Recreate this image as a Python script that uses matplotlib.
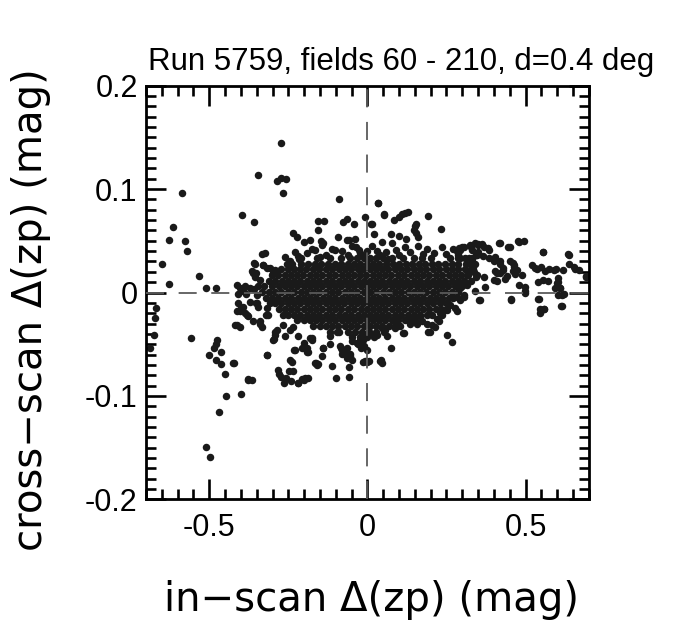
import matplotlib
matplotlib.use("Agg")
import matplotlib.pyplot as plt
from matplotlib.ticker import MultipleLocator, FixedLocator, FixedFormatter
import numpy as np

# ---- data (in-scan, cross-scan) in mag ----
# dense core, one row of x values per cross-scan level
core_y = [0.0335, 0.028, 0.0225, 0.017, 0.0115, 0.006, 0.0005, -0.005,
          -0.0105, -0.016, -0.0215, -0.027, -0.0325, -0.038, -0.0435]
core_x = [
    [-0.21, -0.16, -0.118, -0.085, -0.055, -0.032, -0.012, 0.008, 0.027, 0.05,
     0.078, 0.112, 0.148, 0.172, 0.2, 0.262, 0.288, 0.31, 0.332],
    [-0.238, -0.211, -0.189, -0.166, -0.147, -0.124, -0.103, -0.084, -0.062, -0.043,
     -0.022, -0.002, 0.019, 0.037, 0.058, 0.08, 0.099, 0.121, 0.14, 0.162, 0.181,
     0.204, 0.222, 0.244, 0.266, 0.287, 0.312, 0.328],
    [-0.272, -0.251, -0.233, -0.212, -0.193, -0.171, -0.152, -0.131, -0.112, -0.091,
     -0.072, -0.052, -0.031, -0.013, 0.008, 0.027, 0.047, 0.066, 0.087, 0.106, 0.126,
     0.147, 0.165, 0.186, 0.206, 0.226, 0.247, 0.267, 0.286, 0.307, 0.333],
    [-0.301, -0.282, -0.262, -0.243, -0.222, -0.203, -0.182, -0.162, -0.143, -0.121,
     -0.102, -0.081, -0.062, -0.041, -0.022, -0.003, 0.018, 0.037, 0.057, 0.076,
     0.097, 0.116, 0.137, 0.156, 0.176, 0.196, 0.216, 0.236, 0.257, 0.276, 0.297,
     0.318, 0.345],
    [-0.312, -0.292, -0.271, -0.252, -0.232, -0.212, -0.191, -0.172, -0.152, -0.131,
     -0.112, -0.091, -0.071, -0.052, -0.031, -0.012, 0.008, 0.028, 0.047, 0.067,
     0.086, 0.107, 0.126, 0.146, 0.166, 0.187, 0.206, 0.226, 0.246, 0.267, 0.287,
     0.306, 0.328],
    [-0.328, -0.302, -0.281, -0.262, -0.242, -0.222, -0.201, -0.182, -0.161, -0.142,
     -0.121, -0.101, -0.082, -0.061, -0.042, -0.021, -0.002, 0.018, 0.038, 0.057,
     0.077, 0.096, 0.117, 0.136, 0.157, 0.176, 0.196, 0.216, 0.237, 0.256, 0.277,
     0.298],
    [-0.332, -0.311, -0.292, -0.272, -0.251, -0.232, -0.211, -0.191, -0.172, -0.152,
     -0.132, -0.111, -0.092, -0.071, -0.051, -0.032, -0.011, 0.008, 0.028, 0.048,
     0.067, 0.087, 0.106, 0.127, 0.147, 0.166, 0.186, 0.207, 0.226, 0.246, 0.267,
     0.285],
    [-0.321, -0.301, -0.282, -0.261, -0.242, -0.221, -0.202, -0.181, -0.162, -0.141,
     -0.122, -0.101, -0.081, -0.062, -0.041, -0.022, -0.001, 0.018, 0.038, 0.057,
     0.078, 0.097, 0.117, 0.137, 0.156, 0.176, 0.197, 0.216, 0.236, 0.257, 0.272],
    [-0.308, -0.292, -0.273, -0.252, -0.233, -0.213, -0.192, -0.173, -0.152, -0.132,
     -0.113, -0.092, -0.073, -0.053, -0.032, -0.013, 0.007, 0.027, 0.047, 0.066,
     0.086, 0.106, 0.126, 0.146, 0.167, 0.187, 0.207, 0.228, 0.248],
    [-0.281, -0.262, -0.241, -0.222, -0.201, -0.182, -0.161, -0.142, -0.121, -0.102,
     -0.082, -0.061, -0.042, -0.021, -0.002, 0.018, 0.037, 0.057, 0.077, 0.097,
     0.116, 0.137, 0.156, 0.177, 0.196, 0.217, 0.232],
    [-0.266, -0.251, -0.231, -0.212, -0.192, -0.171, -0.152, -0.131, -0.112, -0.091,
     -0.072, -0.052, -0.031, -0.012, 0.008, 0.027, 0.047, 0.066, 0.087, 0.106,
     0.127, 0.147, 0.166, 0.187, 0.203],
    [-0.222, -0.201, -0.182, -0.161, -0.142, -0.121, -0.102, -0.081, -0.062, -0.041,
     -0.022, -0.001, 0.018, 0.038, 0.057, 0.078, 0.097, 0.118, 0.137, 0.152],
    [-0.172, -0.151, -0.131, -0.111, -0.092, -0.071, -0.052, -0.032, -0.011, 0.008,
     0.028, 0.047, 0.067, 0.088, 0.103],
    [-0.118, -0.09, -0.062, -0.038, -0.016, 0.006, 0.027, 0.052],
    [-0.05, -0.022, 0.0, 0.021],
]

# scattered points above the core
upper = [(-0.157, 0.069), (-0.137, 0.069), (-0.076, 0.068), (-0.065, 0.071), (-0.042, 0.066),
         (0.012, 0.066), (0.083, 0.070), (-0.155, 0.060), (-0.234, 0.058), (-0.223, 0.054),
         (-0.094, 0.054), (-0.063, 0.051), (-0.039, 0.052), (0.022, 0.057), (0.074, 0.057),
         (0.101, 0.055), (0.121, 0.052), (0.150, 0.064), (0.155, 0.058), (0.160, 0.054),
         (0.146, 0.060), (0.155, 0.066), (-0.200, 0.049), (-0.182, 0.051), (-0.146, 0.050),
         (-0.139, 0.048), (-0.142, 0.046), (-0.113, 0.042), (-0.104, 0.041), (0.054, 0.076),
         (0.101, 0.073), (0.119, 0.077), (0.127, 0.078), (0.109, 0.076), (0.053, 0.075),
         (0.014, 0.066), (0.046, 0.049), (0.077, 0.048), (0.233, 0.061), (-0.176, 0.042),
         (-0.165, 0.041), (-0.229, 0.039), (-0.220, 0.035), (-0.324, 0.038), (-0.334, 0.037),
         (-0.359, 0.029), (-0.331, 0.027), (-0.366, 0.021), (-0.352, 0.019), (-0.308, 0.024),
         (-0.292, 0.022), (-0.287, 0.018), (-0.049, 0.045), (-0.057, 0.051), (-0.028, 0.041),
         (-0.023, 0.038), (-0.255, 0.028), (-0.245, 0.030), (-0.355, 0.028), (-0.329, 0.027),
         (-0.361, 0.019), (-0.355, 0.015), (-0.340, 0.012), (-0.318, 0.024), (-0.297, 0.019),
         (-0.190, 0.038), (-0.130, 0.036), (-0.080, 0.040), (-0.060, 0.036), (-0.035, 0.044),
         (0.000, 0.040), (0.015, 0.045), (0.030, 0.040), (0.060, 0.039), (0.090, 0.041),
         (0.100, 0.036), (0.120, 0.044), (0.135, 0.039), (0.160, 0.045), (0.175, 0.037),
         (0.190, 0.042), (0.210, 0.038), (0.235, 0.044), (0.250, 0.037), (0.270, 0.042),
         (-0.150, 0.034), (-0.215, 0.032), (-0.260, 0.034), (0.065, 0.032), (-0.010, 0.035),
         (0.040, 0.036), (-0.009, 0.073), (0.193, 0.074), (0.035, 0.087), (-0.090, 0.090)]

# scattered points below the core
lower = [(-0.265, -0.088), (-0.257, -0.083), (-0.249, -0.076), (-0.234, -0.076), (-0.284, -0.075),
         (-0.280, -0.079), (-0.272, -0.082), (-0.243, -0.086), (-0.219, -0.088), (-0.202, -0.085),
         (-0.189, -0.083), (-0.208, -0.084), (-0.197, -0.083), (-0.165, -0.068), (-0.157, -0.069),
         (-0.113, -0.071), (-0.100, -0.083), (-0.059, -0.082), (-0.057, -0.072), (-0.008, -0.066),
         (0.004, -0.066), (0.039, -0.066), (0.047, -0.068), (0.075, -0.054), (-0.245, -0.065),
         (-0.239, -0.067), (-0.229, -0.056), (-0.139, -0.054), (-0.144, -0.061), (-0.194, -0.055),
         (-0.187, -0.058), (-0.181, -0.044), (-0.176, -0.046), (-0.087, -0.052), (-0.080, -0.056),
         (-0.072, -0.059), (-0.065, -0.063), (-0.055, -0.061), (-0.048, -0.065), (-0.030, -0.050),
         (-0.020, -0.054), (-0.010, -0.052), (0.000, -0.056), (-0.013, -0.067), (-0.002, -0.067),
         (0.061, -0.042), (0.030, -0.041), (0.114, -0.039), (0.088, -0.034), (0.156, -0.030),
         (0.172, -0.028), (0.193, -0.038), (0.117, -0.039), (0.198, -0.038), (0.253, -0.041),
         (0.268, -0.048), (-0.297, -0.046), (-0.292, -0.041), (-0.318, -0.060), (-0.218, -0.042),
         (-0.202, -0.049), (-0.208, -0.054), (-0.192, -0.054), (-0.176, -0.044), (-0.192, -0.058),
         (-0.141, -0.054), (-0.118, -0.050), (-0.118, -0.042), (-0.097, -0.038), (-0.084, -0.054),
         (-0.079, -0.059), (-0.065, -0.054), (-0.055, -0.059), (-0.049, -0.047), (-0.034, -0.049),
         (-0.023, -0.046), (-0.007, -0.042), (-0.287, -0.036), (-0.266, -0.031), (-0.245, -0.036),
         (-0.234, -0.033), (0.083, -0.028), (0.098, -0.031), (0.135, -0.030), (0.130, -0.026),
         (0.167, -0.023), (0.188, -0.030), (0.204, -0.031), (0.220, -0.026), (0.230, -0.020),
         (0.246, -0.017), (0.262, -0.012), (0.278, -0.015), (0.283, -0.018), (0.293, -0.007),
         (0.304, -0.004), (0.056, -0.036), (0.046, -0.034), (0.009, -0.039), (-0.013, -0.046),
         (-0.023, -0.050), (0.251, -0.017), (0.235, -0.022), (0.225, -0.028), (0.214, -0.033),
         (0.042, -0.065), (-0.162, -0.068), (-0.158, -0.070), (-0.218, -0.088)]

# left end of the cloud
left = [(-0.413, 0.007), (-0.403, 0.004), (-0.410, -0.001), (-0.387, 0.006), (-0.371, 0.004),
        (-0.385, -0.001), (-0.408, -0.010), (-0.392, -0.014), (-0.403, -0.018), (-0.387, -0.020),
        (-0.377, -0.023), (-0.352, -0.010), (-0.345, -0.014), (-0.400, -0.015), (-0.382, -0.022),
        (-0.413, -0.018), (-0.371, -0.009), (-0.361, -0.028), (-0.350, -0.010), (-0.411, -0.031),
        (-0.403, -0.033), (-0.340, -0.030), (-0.334, -0.033), (-0.318, -0.015), (-0.313, -0.022),
        (-0.292, -0.038), (-0.295, -0.045), (-0.260, -0.042), (-0.231, -0.056), (-0.394, 0.001),
        (-0.419, -0.031), (-0.340, -0.028), (-0.322, -0.022), (-0.360, 0.003), (-0.350, -0.002),
        (-0.345, 0.006), (-0.424, -0.068), (-0.376, -0.084), (-0.366, -0.085), (-0.422, -0.068),
        (-0.317, -0.060), (-0.401, -0.098)]

# right wing of the cloud
right = [(0.283, 0.040), (0.290, 0.043), (0.299, 0.044), (0.286, 0.036), (0.293, 0.033),
         (0.328, 0.044), (0.330, 0.041), (0.343, 0.036), (0.349, 0.039), (0.351, 0.047),
         (0.362, 0.047), (0.370, 0.044), (0.383, 0.041), (0.380, 0.043), (0.320, 0.033),
         (0.330, 0.032), (0.341, 0.028), (0.325, 0.022), (0.336, 0.020), (0.315, 0.017),
         (0.304, 0.011), (0.315, 0.007), (0.293, 0.004), (0.283, -0.004), (0.293, 0.041),
         (0.304, 0.044), (0.288, 0.038), (0.325, 0.046), (0.341, 0.048), (0.351, 0.046),
         (0.346, 0.036), (0.367, 0.035), (0.383, 0.033), (0.399, 0.030), (0.420, 0.028),
         (0.430, 0.022), (0.420, 0.019), (0.441, 0.016), (0.452, 0.030), (0.462, 0.025),
         (0.473, 0.022), (0.478, 0.049), (0.494, 0.050), (0.446, 0.044), (0.415, 0.048),
         (0.420, 0.048), (0.452, 0.044), (0.476, 0.050), (0.554, 0.039), (0.634, 0.037),
         (0.636, 0.028), (0.657, 0.023), (0.691, 0.015), (0.520, 0.027), (0.536, 0.023),
         (0.562, 0.021), (0.591, 0.022), (0.596, 0.023), (0.620, 0.022), (0.603, 0.014),
         (0.603, 0.010), (0.570, 0.011), (0.555, 0.012), (0.540, 0.010), (0.490, 0.017),
         (0.480, 0.007), (0.497, 0.005), (0.499, 0.001), (0.455, -0.006), (0.541, -0.006),
         (0.557, -0.016), (0.547, -0.020), (0.613, -0.013), (0.594, 0.004), (0.609, 0.004),
         (0.604, -0.002), (0.615, -0.002), (0.623, -0.001), (0.357, -0.007), (0.341, 0.001),
         (0.372, 0.005), (0.304, -0.002), (0.399, 0.012), (0.410, 0.019), (0.404, 0.021),
         (0.411, 0.011), (0.434, 0.013), (0.459, 0.029), (0.465, 0.027), (0.459, 0.021),
         (0.467, 0.018), (0.428, 0.024), (0.420, 0.030), (0.402, 0.034), (0.369, 0.015),
         (0.343, 0.015), (0.354, -0.007), (0.454, -0.007), (0.539, -0.006), (0.558, -0.016),
         (0.498, 0.000), (0.652, 0.025), (0.668, 0.022), (0.690, 0.016), (0.636, 0.036),
         (0.555, 0.039), (0.530, 0.024), (0.548, 0.025), (0.575, 0.023), (0.599, 0.009),
         (0.610, 0.004), (0.614, -0.013), (0.547, -0.016), (0.035, 0.087)]

# isolated outliers
outliers = [(-0.273, 0.145), (-0.345, 0.114), (-0.287, 0.108), (-0.274, 0.111), (-0.257, 0.110),
            (-0.267, 0.096), (-0.585, 0.096), (-0.395, 0.075), (-0.358, 0.068), (-0.616, 0.063),
            (-0.627, 0.051), (-0.578, 0.050), (-0.571, 0.040), (-0.651, 0.028), (-0.627, 0.008),
            (-0.533, 0.016), (-0.510, 0.004), (-0.478, 0.004), (-0.669, -0.015), (-0.672, -0.025),
            (-0.675, -0.041), (-0.688, -0.054), (-0.558, -0.044), (-0.501, -0.060), (-0.479, -0.050),
            (-0.474, -0.046), (-0.485, -0.054), (-0.463, -0.058), (-0.479, -0.065), (-0.464, -0.069),
            (-0.451, -0.079), (-0.448, -0.100), (-0.470, -0.116), (-0.510, -0.149), (-0.497, -0.159),
            (-0.379, -0.085)]

xticks = [-0.5, 0, 0.5]
xtick_labels = ["-0.5", "0", "0.5"]
yticks = [-0.2, -0.1, 0, 0.1, 0.2]
ytick_labels = ["-0.2", "-0.1", "0", "0.1", "0.2"]

title = "Run 5759, fields 60 - 210, d=0.4 deg"
xlabel = "in\u2212scan \u0394(zp) (mag)"
ylabel = "cross\u2212scan \u0394(zp) (mag)"

# ---- build the point arrays ----
px = [x for row in core_x for x in row]
py = [y for y, row in zip(core_y, core_x) for _ in row]
for group in (upper, lower, left, right, outliers):
    px += [p[0] for p in group]
    py += [p[1] for p in group]
px = np.array(px)
py = np.array(py)

plt.rcParams['lines.scale_dashes'] = False
tick_font = 'Liberation Sans'
label_font = 'DejaVu Sans'

fig = plt.figure(figsize=(6.75, 6.25), dpi=100)
ax = fig.add_axes([0.2163, 0.2011, 0.656, 0.6618])

ax.plot(px, py, 'o', ms=5.4, color='#1a1a1a', mew=0, zorder=2)

# dashed zero lines drawn over the points
ax.plot([-0.7, 0.7], [0, 0], color='#5a5a5a', lw=1.3, dashes=(13, 10.5), zorder=3)
ax.plot([0, 0], [-0.2, 0.2], color='#5a5a5a', lw=1.3, dashes=(13, 10.5), zorder=3)

ax.set_xlim(-0.7, 0.7)
ax.set_ylim(-0.2, 0.2)

ax.xaxis.set_major_locator(FixedLocator(xticks))
ax.xaxis.set_major_formatter(FixedFormatter(xtick_labels))
ax.xaxis.set_minor_locator(MultipleLocator(0.05))
ax.yaxis.set_major_locator(FixedLocator(yticks))
ax.yaxis.set_major_formatter(FixedFormatter(ytick_labels))
ax.yaxis.set_minor_locator(MultipleLocator(0.01))

ax.tick_params(which='both', direction='in', top=True, right=True, width=1.9, color='black')
ax.tick_params(which='major', length=14.5)
ax.tick_params(which='minor', length=7.5)
ax.tick_params(axis='x', which='major', pad=10, labelsize=22)
ax.tick_params(axis='y', which='major', pad=6, labelsize=22)
for lab in ax.get_xticklabels() + ax.get_yticklabels():
    lab.set_family(tick_font)

for sp in ax.spines.values():
    sp.set_linewidth(2.0)

fig.text(0.595, 0.888, title, ha='center', va='baseline', fontsize=22.5, family=tick_font)
fig.text(0.55, 0.04, xlabel, ha='center', va='center', fontsize=29, family=label_font)
fig.text(0.046, 0.505, ylabel, ha='center', va='center', rotation=90,
         fontsize=29, family=label_font)

fig.savefig('out.png', dpi=100)
